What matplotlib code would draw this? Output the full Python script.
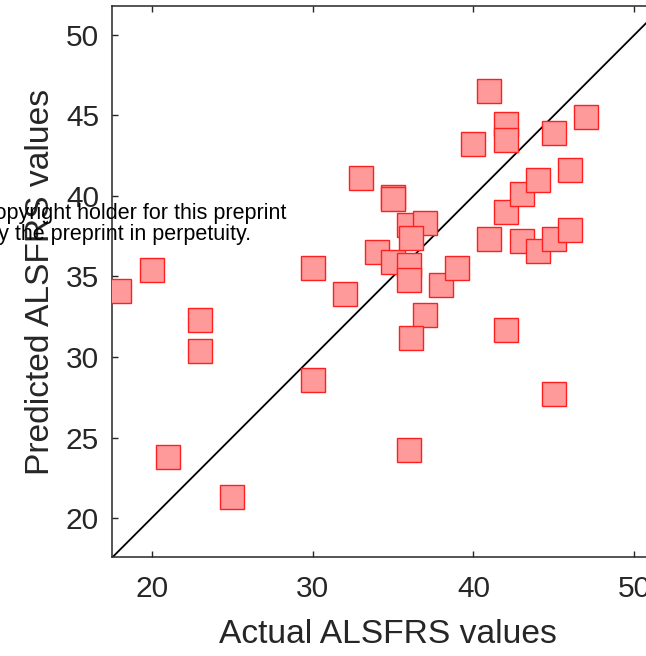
import numpy as np
import matplotlib
matplotlib.use('Agg')
import matplotlib.pyplot as plt
plt.rcParams['font.family'] = ['Liberation Sans', 'DejaVu Sans']

# Actual vs predicted ALSFRS values
actual = [18, 20, 21, 23, 23, 25, 30, 30, 32, 33,
          34, 35, 35, 35, 36, 37, 36.1, 36, 36, 38,
          39, 37, 36.1, 36, 40, 41, 42, 42, 45, 47,
          42, 43, 44, 46, 41, 43, 44, 45, 46, 42, 45]
predicted = [34.1, 35.4, 23.8, 32.3, 30.4, 21.3, 35.5, 28.6, 33.9, 41.1,
             36.5, 39.95, 39.8, 35.9, 38.2, 38.3, 37.4, 35.7, 34.8, 34.5,
             35.5, 32.6, 31.2, 24.2, 43.2, 46.5, 44.5, 43.5, 43.9, 44.9,
             39.0, 40.1, 41.0, 41.6, 37.3, 37.2, 36.6, 37.3, 37.9, 31.7, 27.7]
lims = [17.55, 51.8]
xticks = [20, 30, 40, 50]
yticks = [20, 25, 30, 35, 40, 45, 50]

axcol = '#262626'

fig = plt.figure(figsize=(6.46, 6.56), dpi=100)
# axes deliberately run past the right edge, as in the cropped original
ax = fig.add_axes([0.1737, 0.1502, 0.853, 0.8407])

ax.plot(lims, lims, color='k', lw=1.3, zorder=2)
ax.plot(actual, predicted, ls='None', marker='s', markersize=17.5,
        markerfacecolor='#ff9a9a', markeredgecolor='#ff1f1f',
        markeredgewidth=1.0, zorder=3)

ax.set_xlim(lims)
ax.set_ylim(lims)
ax.set_xticks(xticks)
ax.set_yticks(yticks)
ax.tick_params(direction='in', length=4, width=1, colors=axcol,
               labelsize=21.5, top=True, right=True)
ax.tick_params(axis='x', pad=12.5)
ax.tick_params(axis='y', pad=9.5)
for s in ax.spines.values():
    s.set_color(axcol)
    s.set_linewidth(1.1)

ax.set_xlabel('Actual ALSFRS values', fontsize=24.2, color=axcol)
ax.set_ylabel('Predicted ALSFRS values', fontsize=24.2, color=axcol)
ax.xaxis.set_label_coords(0.5, -0.112)
ax.yaxis.set_label_coords(-0.102, 0.5)

# medRxiv watermark fragment overlapping the left side
fig.text(286 / 646, 1 - 219 / 656, 'The copyright holder for this preprint',
         ha='right', va='baseline', fontsize=15.5, color='k')
fig.text(251 / 646, 1 - 240 / 656, 'to display the preprint in perpetuity.',
         ha='right', va='baseline', fontsize=15.5, color='k')

fig.savefig('out.png', dpi=100)
